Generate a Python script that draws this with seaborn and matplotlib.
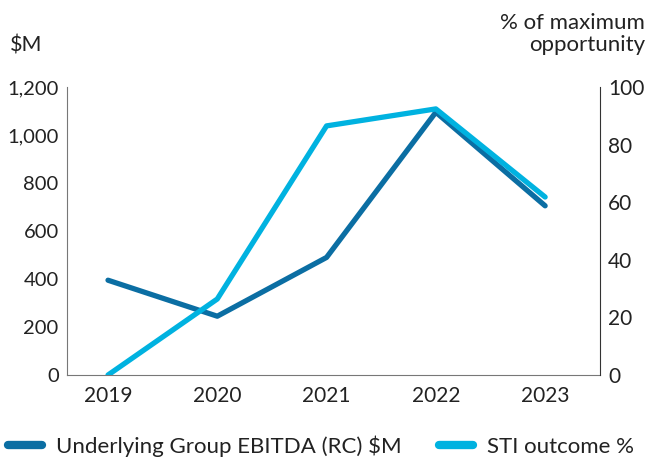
import pandas as pd
import matplotlib.pyplot as plt
import seaborn as sns

years = ["2019", "2020", "2021", "2022", "2023"]
ebitda = [395, 245, 490, 1095, 705]
sti = [0, 26.4, 86.5, 92.4, 61.8]
left_ticks = [0, 200, 400, 600, 800, 1000, 1200]
right_ticks = [0, 20, 40, 60, 80, 100]

DARK = "#0b6ea3"
LIGHT = "#00b2e0"

sns.set_style("white")
plt.rcParams["font.family"] = ["Lato", "DejaVu Sans"]

df = pd.DataFrame({"year": years, "ebitda": ebitda, "sti": sti})

fig = plt.figure(figsize=(6.47, 4.57), dpi=100)
ax = fig.add_axes([0.1036, 0.1794, 0.8234, 0.6302])
ax2 = ax.twinx()

sns.lineplot(data=df, x="year", y="ebitda", ax=ax, color=DARK, lw=3.8, sort=False,
             label="Underlying Group EBITDA (RC) $M", legend=False)
sns.lineplot(data=df, x="year", y="sti", ax=ax2, color=LIGHT, lw=3.8, sort=False,
             label="STI outcome %", legend=False)

ax.set_xlim(-0.375, 4.5)
ax.set_ylim(0, 1200)
ax2.set_ylim(0, 100)
ax.set_yticks(left_ticks)
ax.set_yticklabels([f"{v:,}" for v in left_ticks])
ax2.set_yticks(right_ticks)
ax.set_xlabel("")
ax.set_ylabel("")
ax2.set_ylabel("")

for a in (ax, ax2):
    a.tick_params(length=0, labelsize=14.5, colors="#222222", pad=6)
    for s in a.spines.values():
        s.set_visible(False)
ax.spines["left"].set_visible(True)
ax.spines["left"].set_color("#777777")
ax.spines["bottom"].set_visible(True)
ax.spines["bottom"].set_color("#777777")
ax2.spines["right"].set_visible(True)
ax2.spines["right"].set_color("#333333")
ax.tick_params(axis="x", labelsize=15, pad=8)
ax2.tick_params(axis="y", labelsize=15)

fig.text(0.015, 0.90, "$M", fontsize=15.5, color="#222222", va="center", ha="left")
fig.text(0.997, 0.925, "% of maximum\nopportunity", fontsize=16, color="#222222",
         va="center", ha="right", linespacing=1.1)

h1, l1 = ax.get_legend_handles_labels()
h2, l2 = ax2.get_legend_handles_labels()
fig.legend(h1 + h2, l1 + l2, loc="center left", bbox_to_anchor=(0.012, 0.024), ncol=2,
           frameon=False, fontsize=16, handlelength=1.55, columnspacing=1.7,
           handletextpad=0.6, borderpad=0, borderaxespad=0, labelcolor="#222222")
for line in fig.legends[0].get_lines():
    line.set_linewidth(6)
    line.set_solid_capstyle("round")

fig.savefig("out.png", dpi=100)
